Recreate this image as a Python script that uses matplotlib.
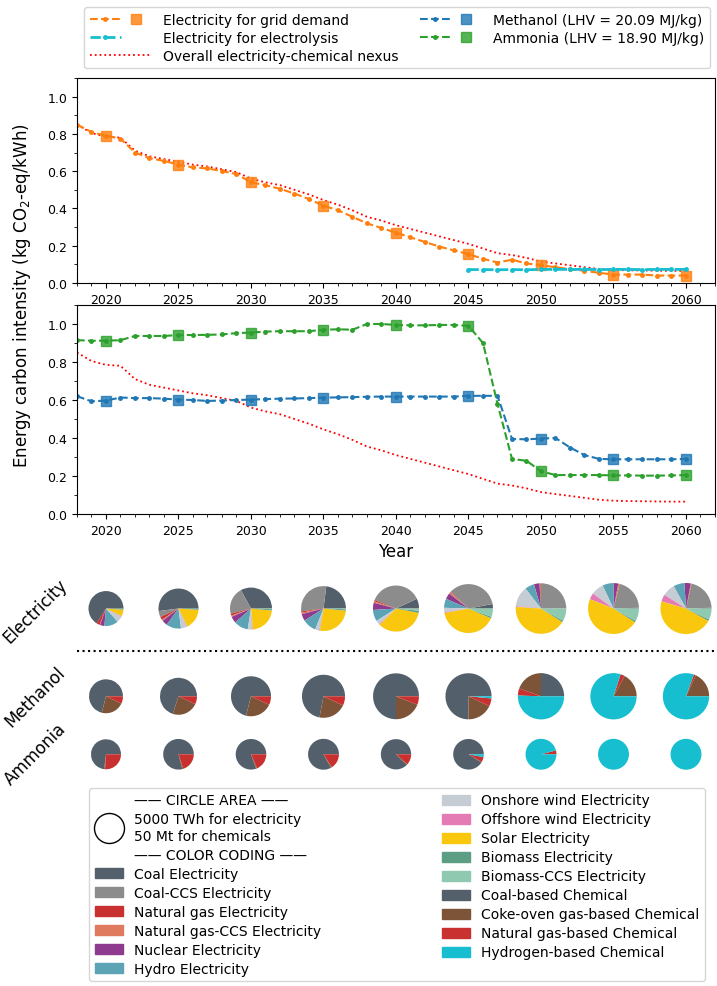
import numpy as np
import matplotlib
matplotlib.use("Agg")
import matplotlib.pyplot as plt
from matplotlib.lines import Line2D
from matplotlib.patches import Patch
from matplotlib.legend_handler import HandlerTuple
from matplotlib.ticker import MultipleLocator

years = list(range(2018, 2061))
pie_years = [2020, 2025, 2030, 2035, 2040, 2045, 2050, 2055, 2060]

# carbon intensity (kg CO2-eq/kWh)
grid_demand = [0.85, 0.81, 0.79, 0.775, 0.70, 0.67, 0.655, 0.635, 0.62, 0.615,
               0.60, 0.585, 0.54, 0.525, 0.505, 0.48, 0.45, 0.415, 0.39, 0.355,
               0.32, 0.295, 0.27, 0.245, 0.22, 0.195, 0.175, 0.155, 0.13, 0.11,
               0.125, 0.105, 0.095, 0.085, 0.075, 0.065, 0.055, 0.045, 0.045, 0.045,
               0.04, 0.04, 0.04]
nexus = [0.85, 0.805, 0.785, 0.78, 0.71, 0.68, 0.665, 0.65, 0.635, 0.625,
         0.61, 0.595, 0.56, 0.54, 0.525, 0.50, 0.475, 0.445, 0.42, 0.39,
         0.355, 0.335, 0.31, 0.29, 0.27, 0.25, 0.23, 0.21, 0.185, 0.16,
         0.15, 0.135, 0.115, 0.105, 0.095, 0.085, 0.075, 0.07, 0.068, 0.067,
         0.066, 0.065, 0.065]
electrolysis_years = list(range(2045, 2061))
electrolysis = [0.072, 0.072, 0.071, 0.072, 0.071, 0.073, 0.073, 0.073, 0.073, 0.072,
                0.073, 0.073, 0.072, 0.073, 0.073, 0.073]
methanol = [0.62, 0.593, 0.597, 0.613, 0.61, 0.61, 0.607, 0.602, 0.60, 0.595,
            0.597, 0.60, 0.602, 0.605, 0.607, 0.608, 0.61, 0.612, 0.614, 0.615,
            0.617, 0.618, 0.618, 0.618, 0.618, 0.618, 0.618, 0.622, 0.622, 0.622,
            0.395, 0.393, 0.397, 0.40, 0.35, 0.31, 0.29, 0.288, 0.288, 0.288,
            0.288, 0.288, 0.29]
ammonia = [0.915, 0.912, 0.912, 0.915, 0.937, 0.937, 0.937, 0.942, 0.942, 0.943,
           0.945, 0.952, 0.955, 0.96, 0.962, 0.962, 0.962, 0.97, 0.972, 0.97,
           1.0, 1.0, 0.995, 0.993, 0.993, 0.995, 0.995, 0.99, 0.90, 0.58,
           0.29, 0.28, 0.225, 0.205, 0.205, 0.205, 0.205, 0.203, 0.203, 0.202,
           0.202, 0.203, 0.205]

# pie data
elec_labels = ['Coal Electricity', 'Coal-CCS Electricity', 'Natural gas Electricity',
               'Natural gas-CCS Electricity', 'Nuclear Electricity', 'Hydro Electricity',
               'Onshore wind Electricity', 'Offshore wind Electricity', 'Solar Electricity',
               'Biomass Electricity', 'Biomass-CCS Electricity']
chem_labels = ['Coal-based Chemical', 'Coke-oven gas-based Chemical',
               'Natural gas-based Chemical', 'Hydrogen-based Chemical']
elec_colors = ['#53606c', '#8c8c8c', '#c8312f', '#e07a5f', '#8e3a8e', '#5ba3b5',
               '#c5ccd4', '#e57bb5', '#f9c80e', '#5b9e83', '#8fcab0']
chem_colors = ['#53606c', '#7d5437', '#c8312f', '#17becf']

elec_total = [6800, 8900, 9800, 11200, 11800, 13300, 14200, 14400, 14500]  # TWh
methanol_total = [64, 76, 89, 103, 117, 118, 119, 119, 119]  # Mt
ammonia_total = [50, 52, 52, 53, 51, 52, 53, 53, 53]  # Mt

# shares (%) in the order of elec_labels
elec_share = [
    [66, 0, 3, 0.5, 4, 13, 6, 0.5, 6, 1, 0],
    [52, 5, 2.5, 1, 4.5, 12, 5, 0.5, 16.5, 1, 0],
    [33, 21, 1.5, 1, 5, 11, 3.5, 0.5, 22, 1, 0.5],
    [23, 29, 1, 1, 5, 10, 3, 0.5, 26, 1, 0.5],
    [7, 37, 1, 1, 5, 8, 3, 0.5, 34.5, 1.5, 1.5],
    [3, 35, 0.5, 1, 4, 6, 3, 0.5, 40.5, 1, 5.5],
    [0, 25, 0, 1, 3.5, 6, 13, 0.5, 42, 1, 8],
    [0.5, 20.5, 0, 1, 3, 7, 8, 4, 47, 1, 8],
    [0.5, 21, 0, 0.5, 4, 7, 8, 4.5, 46.5, 1, 7],
]
methanol_share = [
    [71, 22, 7, 0],
    [70, 23, 7, 0],
    [71, 22, 7, 0],
    [72, 21, 7, 0],
    [75, 19, 6, 0],
    [75, 18, 5.5, 1.5],
    [25, 19.5, 5, 50.5],
    [0, 17, 3, 80],
    [0, 18, 1.5, 80.5],
]
ammonia_share = [
    [73, 1, 26, 0],
    [79, 1, 20, 0],
    [80.5, 1, 18.5, 0],
    [83, 1, 16, 0],
    [87.5, 1, 11.5, 0],
    [91, 0.5, 5.5, 3],
    [0, 0, 4, 96],
    [0, 0, 0, 100],
    [0, 0, 0, 100],
]

W, H, DPI = 717, 987, 100
fig = plt.figure(figsize=(W / DPI, H / DPI), dpi=DPI)

ax_left, ax_w = 77 / W, 638 / W
ax1 = fig.add_axes([ax_left, 1 - 284 / H, ax_w, 205 / H])
ax2 = fig.add_axes([ax_left, 1 - 515 / H, ax_w, 209 / H])

five = [years.index(y) for y in pie_years]

ax1.plot(years, nexus, ls=':', color='red', lw=1.3)
ax1.plot(years, grid_demand, ls='--', color='tab:orange', marker='.', ms=5, lw=1.5)
ax1.plot(pie_years, [grid_demand[i] for i in five], ls='none', marker='s', ms=7,
         color='tab:orange', alpha=0.8)
ax1.plot(electrolysis_years, electrolysis, ls='--', color='tab:cyan', marker='.', ms=5, lw=2)

ax2.plot(years, nexus, ls=':', color='red', lw=1.3)
ax2.plot(years, methanol, ls='--', color='tab:blue', marker='.', ms=5, lw=1.5)
ax2.plot(pie_years, [methanol[i] for i in five], ls='none', marker='s', ms=7,
         color='tab:blue', alpha=0.8)
ax2.plot(years, ammonia, ls='--', color='tab:green', marker='.', ms=5, lw=1.5)
ax2.plot(pie_years, [ammonia[i] for i in five], ls='none', marker='s', ms=7,
         color='tab:green', alpha=0.8)

for ax in (ax1, ax2):
    ax.set_xlim(2018, 2062)
    ax.set_ylim(0, 1.1)
    ax.set_xticks(pie_years)
    ax.set_yticks([0, 0.2, 0.4, 0.6, 0.8, 1.0])
    ax.xaxis.set_minor_locator(MultipleLocator(1))
    ax.yaxis.set_minor_locator(MultipleLocator(0.1))
    ax.tick_params(labelsize=9)
ax2.set_xlabel('Year', fontsize=12)
fig.text(22 / W, 1 - 296 / H, 'Energy carbon intensity (kg CO$_2$-eq/kWh)',
         rotation=90, ha='center', va='center', fontsize=12)

# top legend
mk = dict(ls='none', marker='s', ms=7, alpha=0.8)
handles = [
    (Line2D([], [], color='tab:orange', ls='--', marker='.', ms=5), Line2D([], [], color='tab:orange', **mk)),
    (Line2D([], [], color='tab:cyan', ls='--', lw=2, marker='.', ms=5), Line2D([], [], ls='none')),
    Line2D([], [], color='red', ls=':', lw=1.3),
    (Line2D([], [], color='tab:blue', ls='--', marker='.', ms=5), Line2D([], [], color='tab:blue', **mk)),
    (Line2D([], [], color='tab:green', ls='--', marker='.', ms=5), Line2D([], [], color='tab:green', **mk)),
]
labels = ['Electricity for grid demand', 'Electricity for electrolysis',
          'Overall electricity-chemical nexus', 'Methanol (LHV = 20.09 MJ/kg)',
          'Ammonia (LHV = 18.90 MJ/kg)']
fig.legend(handles, labels, ncol=2, loc='upper center', bbox_to_anchor=(397 / W, 1 - 1 / H),
           handler_map={tuple: HandlerTuple(ndivide=None, pad=0)}, handlelength=4.5,
           fontsize=10, labelspacing=0.3, columnspacing=1.5)

# pies
ax_p = fig.add_axes([ax_left, 1 - 785 / H, ax_w, 220 / H])
px_per_year = 638 / 44
y_top = 220 / px_per_year
row_y = {'Electricity': 12.1, 'Methanol': 6.05, 'Ammonia': 2.05}
r_ref = 15 / px_per_year  # circle for 5000 TWh / 50 Mt

for i, yr in enumerate(pie_years):
    ax_p.pie(elec_share[i], colors=elec_colors, center=(yr, row_y['Electricity']),
             radius=r_ref * np.sqrt(elec_total[i] / 5000), startangle=0, frame=True,
             wedgeprops=dict(linewidth=0))
    ax_p.pie(methanol_share[i], colors=chem_colors, center=(yr, row_y['Methanol']),
             radius=r_ref * np.sqrt(methanol_total[i] / 50), startangle=0, frame=True,
             wedgeprops=dict(linewidth=0))
    ax_p.pie(ammonia_share[i], colors=chem_colors, center=(yr, row_y['Ammonia']),
             radius=r_ref * np.sqrt(ammonia_total[i] / 50), startangle=0, frame=True,
             wedgeprops=dict(linewidth=0))
ax_p.axhline(9.17, color='black', ls=':', lw=1.5)
ax_p.set_xlim(2018, 2062)
ax_p.set_ylim(0, y_top)
ax_p.set_aspect('auto')
ax_p.axis('off')

for name, ypx in [('Electricity', 611), ('Methanol', 697), ('Ammonia', 754)]:
    fig.text(35 / W, 1 - ypx / H, name, rotation=45, ha='center', va='center', fontsize=12)

# bottom legend
blank = Line2D([], [], ls='none')
circle = Line2D([], [], ls='none', marker='o', ms=30 * 72 / DPI, mfc='none', mec='black', mew=1)
b_handles = [blank, circle, blank] + [Patch(color=c) for c in elec_colors] + \
            [Patch(color=c) for c in chem_colors]
b_labels = ['—— CIRCLE AREA ——', '5000 TWh for electricity\n50 Mt for chemicals',
            '—— COLOR CODING ——'] + elec_labels + chem_labels
fig.legend(b_handles, b_labels, ncol=2, loc='upper center', bbox_to_anchor=(397 / W, 1 - 782 / H),
           fontsize=10, labelspacing=0.36, columnspacing=8.7)

fig.savefig('out.png', dpi=DPI)
